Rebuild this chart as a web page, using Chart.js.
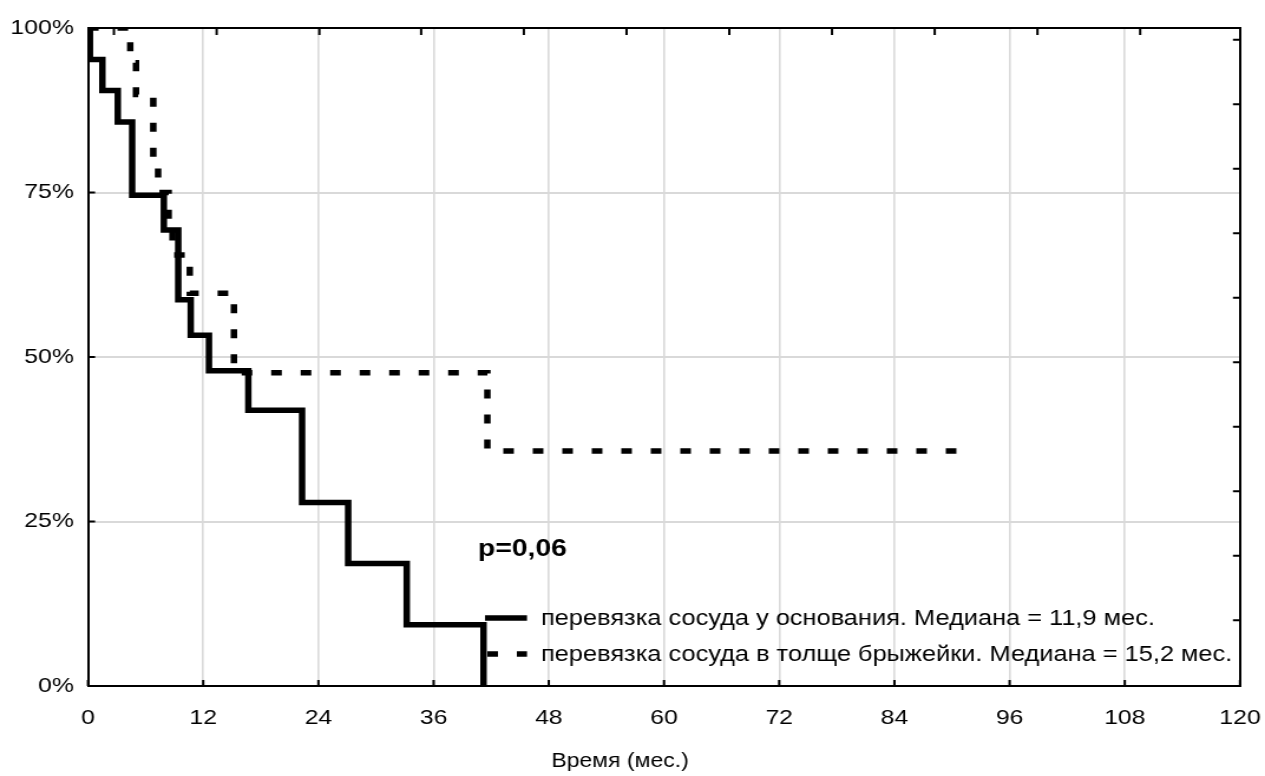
<!DOCTYPE html>
<html><head><meta charset="utf-8">
<script src="https://cdn.jsdelivr.net/npm/chart.js@4.4.1/dist/chart.umd.min.js"></script>
<style>html,body{margin:0;padding:0;background:#fff;overflow:hidden}canvas{display:block}</style>
</head><body>
<canvas id="c" width="1072" height="776" style="width:1265px;height:776px"></canvas>
<script>
// ---- data ----
const timesBase = [0, 0.2, 1.5, 3.1, 4.6, 7.9, 9.4, 10.7, 12.6, 16.7, 22.3, 27.1, 33.2, 41.2];
const survBase  = [100, 95.2, 90.5, 85.7, 74.6, 69.3, 58.7, 53.3, 47.9, 41.9, 27.9, 18.6, 9.3, 0];
const timesMes  = [0, 4.4, 5.0, 6.8, 7.3, 8.4, 8.8, 10.6, 15.2, 41.6, 91.7];
const survMes   = [100, 94.7, 89.9, 80, 75, 70, 65.5, 59.7, 47.6, 35.7, 35.7];
const labelBase = 'перевязка сосуда у основания. Медиана = 11,9 мес.';
const labelMes  = 'перевязка сосуда в толще брыжейки. Медиана = 15,2 мес.';
const xTickStep = 12, yTickStep = 25;
const topMinorTicks   = [2.7, 13.4, 24.1, 34.7, 45.4, 56.1, 66.8, 77.5, 88.2, 98.9, 109.6];
const rightMinorTicks = [98.2, 88.4, 78.6, 68.8, 59.0, 49.2, 39.4, 29.6, 19.8, 10.0];
const xTitle = 'Время (мес.)';
const pText = 'p=0,06';

const S = 1265 / 1072; // horizontal stretch of the reference picture
const FONT = "'Liberation Sans', Arial, sans-serif";
Chart.defaults.font.family = FONT;
Chart.defaults.color = '#000';

const toPts = (t, s) => t.map((v, i) => ({x: v, y: s[i]}));

const deco = {
  id: 'deco',
  afterDatasetsDraw(chart) {
    const {ctx, chartArea: a, scales} = chart;
    ctx.save();
    ctx.strokeStyle = '#000';
    ctx.lineWidth = 2;
    ctx.beginPath();
    scales.x.ticks.forEach(t => { const p = scales.x.getPixelForValue(t.value); ctx.moveTo(p, a.bottom); ctx.lineTo(p, a.bottom - 6); });
    scales.y.ticks.forEach(t => { const p = scales.y.getPixelForValue(t.value); ctx.moveTo(a.left, p); ctx.lineTo(a.left + 6, p); });
    scales.x2.ticks.forEach(t => { const p = scales.x2.getPixelForValue(t.value); ctx.moveTo(p, a.top); ctx.lineTo(p, a.top + 7); });
    scales.y2.ticks.forEach(t => { const p = scales.y2.getPixelForValue(t.value); ctx.moveTo(a.right, p); ctx.lineTo(a.right - 6, p); });
    ctx.stroke();
    ctx.restore();
  },
  afterDraw(chart) {
    const {ctx} = chart;
    const ds = chart.data.datasets;
    ctx.save();
    const lx0 = 485 / S, lx1 = 527 / S, tx = 541 / S;
    const rows = [618, 654];
    ds.forEach((d, i) => {
      ctx.beginPath();
      ctx.strokeStyle = d.borderColor;
      ctx.lineWidth = d.borderWidth;
      ctx.lineCap = 'butt';
      ctx.setLineDash(d.borderDash || []);
      ctx.lineDashOffset = d.borderDash ? -2 : 0;
      ctx.moveTo(lx0, rows[i]); ctx.lineTo(lx1, rows[i]);
      ctx.stroke();
      ctx.setLineDash([]);
      ctx.fillStyle = '#000';
      ctx.font = '21.5px ' + FONT;
      ctx.textBaseline = 'middle';
      ctx.textAlign = 'left';
      ctx.fillText(d.label, tx, rows[i] + 1);
    });
    ctx.font = 'bold 24px ' + FONT;
    ctx.textBaseline = 'middle';
    ctx.fillText(pText, 478 / S, 549);
    ctx.restore();
  }
};

new Chart(document.getElementById('c'), {
  type: 'line',
  data: {
    datasets: [
      {label: labelBase, data: toPts(timesBase, survBase), stepped: 'before', borderColor: '#000', borderWidth: 5.5,
       pointRadius: 0, fill: false, borderCapStyle: 'butt', borderJoinStyle: 'miter'},
      {label: labelMes, data: toPts(timesMes, survMes), stepped: 'before', borderColor: '#000', borderWidth: 5.5,
       borderDash: [9, 16], pointRadius: 0, fill: false, borderCapStyle: 'butt', borderJoinStyle: 'miter'}
    ]
  },
  options: {
    responsive: false,
    animation: false,
    devicePixelRatio: 1,
    layout: {padding: {top: 28, right: 1072 - 1240 / S, left: 0, bottom: 0}},
    plugins: {
      legend: {display: false},
      tooltip: {enabled: false},
      title: {display: true, position: 'bottom', text: xTitle, color: '#000',
              font: {size: 19.5, weight: 'normal'}, padding: {top: 8, bottom: 3}}
    },
    scales: {
      x: {type: 'linear', position: 'bottom', min: 0, max: 120,
          ticks: {stepSize: xTickStep, font: {size: 21}, color: '#000', padding: 20, maxRotation: 0},
          grid: {color: '#d9d9d9', lineWidth: 1.6, drawTicks: false},
          border: {display: true, color: '#000', width: 2},
          afterFit: s => { s.height = 55.6; s.paddingLeft = 0; s.paddingRight = 0; }},
      y: {type: 'linear', position: 'left', min: 0, max: 100,
          ticks: {stepSize: yTickStep, font: {size: 21}, color: '#000', padding: 12, callback: v => v + '%'},
          grid: {color: '#d9d9d9', lineWidth: 2, drawTicks: false},
          border: {display: true, color: '#000', width: 2},
          afterFit: s => { s.width = 88 / S; s.paddingTop = 0; s.paddingBottom = 0; }},
      x2: {type: 'linear', position: 'top', min: 0, max: 120,
          ticks: {display: false},
          grid: {drawOnChartArea: false, drawTicks: false},
          border: {display: true, color: '#000', width: 2},
          afterBuildTicks: s => { s.ticks = topMinorTicks.map(v => ({value: v})); },
          afterFit: s => { s.height = 0; s.paddingLeft = 0; s.paddingRight = 0; }},
      y2: {type: 'linear', position: 'right', min: 0, max: 100,
          ticks: {display: false},
          grid: {drawOnChartArea: false, drawTicks: false},
          border: {display: true, color: '#000', width: 2},
          afterBuildTicks: s => { s.ticks = rightMinorTicks.map(v => ({value: v})); },
          afterFit: s => { s.width = 0; s.paddingTop = 0; s.paddingBottom = 0; }}
    }
  },
  plugins: [deco]
});
</script>
</body></html>
